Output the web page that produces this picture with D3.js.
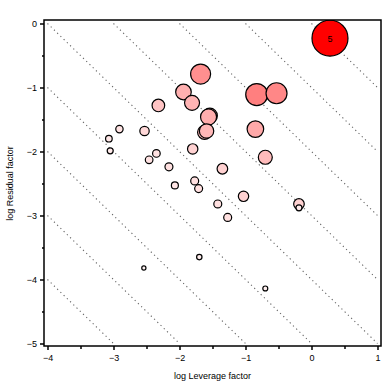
<!DOCTYPE html>
<html>
<head>
<meta charset="utf-8">
<script src="https://cdn.jsdelivr.net/npm/d3@7"></script>
<style>
  body { margin: 0; background: #fff; }
  text { font-family: "Liberation Sans", Arial, sans-serif; }
</style>
</head>
<body>
<div id="chart" style="width:384px;height:384px"></div>
<script>
// observations: log leverage, log residual, influence (sets size and colour)
const logLeverage = [-0.83, -0.53, -1.68, -1.94, -1.81, -2.32, -1.54, -1.56, -1.62, -1.59,
  -0.85, -1.80, -2.53, -2.91, -3.07, -3.05, -2.35, -2.46, -2.16, -2.07, -1.77, -1.71,
  -1.42, -1.35, -1.27, -1.03, -0.70, -0.19, -0.19, -0.70, -1.70, -2.54, 0.28];
const logResidual = [-1.11, -1.09, -0.79, -1.07, -1.24, -1.28, -1.44, -1.46, -1.70, -1.68,
  -1.65, -1.96, -1.68, -1.65, -1.80, -1.99, -2.03, -2.13, -2.24, -2.53, -2.46, -2.58,
  -2.82, -2.27, -3.03, -2.70, -2.09, -2.82, -2.88, -4.14, -3.65, -3.82, -0.23];
const influence = [0.373, 0.340, 0.309, 0.188, 0.174, 0.123, 0.174, 0.198, 0.151, 0.160,
  0.213, 0.083, 0.068, 0.042, 0.034, 0.028, 0.045, 0.045, 0.049, 0.038, 0.049, 0.049,
  0.049, 0.087, 0.049, 0.083, 0.151, 0.087, 0.028, 0.019, 0.0225, 0.0136, 1.0];
const pointLabels = ["", "", "", "", "", "", "", "", "", "", "", "", "", "", "", "", "",
  "", "", "", "", "", "", "", "", "", "", "", "", "", "", "", "5"];
const contourLevels = [-8, -7, -6, -5, -4, -3, -2, -1, 0];
const xTicks = [-4, -3, -2, -1, 0, 1];
const yTicks = [0, -1, -2, -3, -4, -5];
const xLabel = "log Leverage factor";
const yLabel = "log Residual factor";

const data = logLeverage.map((x, i) => ({
  x: x, y: logResidual[i], v: influence[i], label: pointLabels[i]
}));

const width = 384, height = 384;
const svg = d3.select("#chart").append("svg")
  .attr("width", width).attr("height", height);

const x = d3.scaleLinear().domain([-4, 1]).range([47.5, 377.5]);
const y = d3.scaleLinear().domain([-5, 0]).range([343.5, 23.5]);
const r = d3.scaleSqrt().domain([0, 1]).range([0, 18]);
const tone = d3.scalePow().exponent(0.7).domain([0, 1]).range([0, 1]);
const fill = (v) => d3.interpolateRgb("#ffffff", "#ff0000")(tone(v));

const frame = { left: 44, top: 20, right: 381, bottom: 346 };

svg.append("defs").append("clipPath").attr("id", "clip")
  .append("rect")
  .attr("x", frame.left).attr("y", frame.top)
  .attr("width", frame.right - frame.left)
  .attr("height", frame.bottom - frame.top);

// dotted lines of constant leverage + residual
svg.append("g").attr("class", "contours")
  .selectAll("line")
  .data(contourLevels)
  .join("line")
  .attr("x1", (c) => x(Math.max(-4, c)))
  .attr("y1", (c) => y(c - Math.max(-4, c)))
  .attr("x2", (c) => x(Math.min(1, c + 5)))
  .attr("y2", (c) => y(c - Math.min(1, c + 5)))
  .attr("stroke", "#666")
  .attr("stroke-width", 1.1)
  .attr("stroke-dasharray", "1.2,3.3");

const pts = svg.append("g").attr("clip-path", "url(#clip)");
pts.selectAll("circle")
  .data(data)
  .join("circle")
  .attr("cx", (d) => x(d.x))
  .attr("cy", (d) => y(d.y))
  .attr("r", (d) => r(d.v))
  .attr("fill", (d) => fill(d.v))
  .attr("stroke", "#000")
  .attr("stroke-width", 1.2);

pts.selectAll("text")
  .data(data.filter((d) => d.label))
  .join("text")
  .attr("x", (d) => x(d.x))
  .attr("y", (d) => y(d.y) + 3.5)
  .attr("text-anchor", "middle")
  .attr("font-size", 9)
  .text((d) => d.label);

svg.append("rect")
  .attr("x", frame.left).attr("y", frame.top)
  .attr("width", frame.right - frame.left)
  .attr("height", frame.bottom - frame.top)
  .attr("fill", "none")
  .attr("stroke", "#000")
  .attr("stroke-width", 1.5);

const fmt = (d) => (d < 0 ? "\u2212" + Math.abs(d) : String(d));

const xAxis = svg.append("g")
  .attr("transform", `translate(0,${frame.bottom})`)
  .call(d3.axisBottom(x).tickValues(xTicks).tickSize(4).tickPadding(5).tickFormat(fmt));
xAxis.append("g")
  .call(d3.axisBottom(x).tickValues(d3.range(-3.5, 1, 1)).tickSize(3).tickFormat(""));

const yAxis = svg.append("g")
  .attr("transform", `translate(${frame.left},0)`)
  .call(d3.axisLeft(y).tickValues(yTicks).tickSize(4).tickPadding(3).tickFormat(fmt));
yAxis.append("g")
  .call(d3.axisLeft(y).tickValues(d3.range(-4.5, 0, 1)).tickSize(2).tickFormat(""));

svg.selectAll(".domain").remove();
svg.selectAll(".tick line").attr("stroke", "#000").attr("stroke-width", 1.5);
svg.selectAll(".tick text")
  .attr("font-size", 9)
  .attr("font-family", "Liberation Sans, Arial, sans-serif")
  .attr("fill", "#000");

svg.append("text")
  .attr("x", (x(-4) + x(1)) / 2)
  .attr("y", 379)
  .attr("text-anchor", "middle")
  .attr("font-size", 9)
  .text(xLabel);

svg.append("text")
  .attr("transform", `translate(13,${(y(0) + y(-5)) / 2}) rotate(-90)`)
  .attr("text-anchor", "middle")
  .attr("font-size", 9)
  .text(yLabel);
</script>
</body>
</html>
